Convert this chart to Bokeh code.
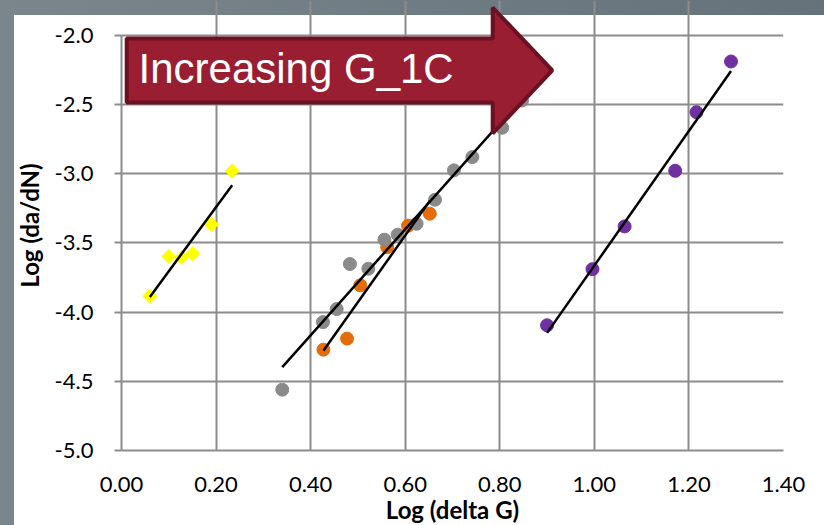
import numpy as np
from bokeh.plotting import figure
from bokeh.models import PolyAnnotation, Label, FixedTicker, Range1d
from bokeh.embed import file_html
from bokeh.resources import INLINE

# ---- data ----
x_ticks = [0.0, 0.2, 0.4, 0.6, 0.8, 1.0, 1.2, 1.4]
x_tick_labels = ["0.00", "0.20", "0.40", "0.60", "0.80", "1.00", "1.20", "1.40"]
y_ticks = [-5.0, -4.5, -4.0, -3.5, -3.0, -2.5, -2.0]
y_tick_labels = ["-5.0", "-4.5", "-4.0", "-3.5", "-3.0", "-2.5", "-2.0"]

yellow_x = [0.060, 0.100, 0.127, 0.151, 0.190, 0.234]
yellow_y = [-3.884, -3.597, -3.606, -3.577, -3.366, -2.980]

orange_x = [0.427, 0.477, 0.505, 0.562, 0.606, 0.652]
orange_y = [-4.271, -4.191, -3.806, -3.530, -3.375, -3.288]

gray_x = [0.340, 0.426, 0.455, 0.483, 0.522, 0.556, 0.584, 0.624, 0.663, 0.703, 0.742, 0.805, 0.847]
gray_y = [-4.560, -4.072, -3.978, -3.652, -3.686, -3.476, -3.440, -3.361, -3.187, -2.975, -2.879, -2.667, -2.470]

purple_x = [0.900, 0.996, 1.064, 1.171, 1.216, 1.289]
purple_y = [-4.095, -3.689, -3.380, -2.978, -2.554, -2.188]

FONT = "Lato"
X_MIN, X_MAX = 0.0, 1.4
Y_MIN, Y_MAX = -5.0, -2.0

# frame extends above the -2.0 line so the arrow head can overhang the chart
p = figure(frame_width=662, frame_height=450,
           min_border_left=121, min_border_right=41, min_border_top=0, min_border_bottom=75,
           x_range=Range1d(X_MIN, X_MAX), y_range=Range1d(Y_MIN, -1.7471),
           output_backend="svg", toolbar_location=None,
           background_fill_color=None, border_fill_color=None)
p.styles = {
    "background": "linear-gradient(#ffffff, #ffffff) 14px 15px / 810px 510px no-repeat, "
                  "linear-gradient(to right, #7b868c, #65727a)"
}
p.outline_line_color = None

GRID = "#8c8c8c"
for g in (p.xgrid, p.ygrid):
    g.grid_line_color = GRID
    g.grid_line_width = 2
p.xgrid.ticker = FixedTicker(ticks=x_ticks)
p.ygrid.ticker = FixedTicker(ticks=y_ticks)
p.xgrid.bounds = (Y_MIN, Y_MAX)
p.ygrid.bounds = (X_MIN, X_MAX)

p.xaxis.ticker = FixedTicker(ticks=x_ticks)
p.xaxis.major_label_overrides = {t: l for t, l in zip(x_ticks, x_tick_labels)}
p.yaxis.ticker = FixedTicker(ticks=y_ticks)
p.yaxis.major_label_overrides = {t: l for t, l in zip(y_ticks, y_tick_labels)}
p.yaxis.bounds = (Y_MIN, Y_MAX)

for ax in (p.xaxis, p.yaxis):
    ax.axis_line_color = GRID
    ax.axis_line_width = 2
    ax.major_tick_line_color = GRID
    ax.major_tick_line_width = 2
    ax.minor_tick_line_color = None
    ax.major_label_text_font = FONT
    ax.major_label_text_font_size = "22px"
    ax.major_label_text_color = "#000000"
    ax.axis_label_text_font = FONT
    ax.axis_label_text_font_size = "24px"
    ax.axis_label_text_font_style = "bold"
    ax.axis_label_text_color = "#000000"
p.xaxis.major_tick_out = 0
p.xaxis.major_tick_in = 0
p.xaxis.major_label_standoff = 26
p.xaxis.axis_label = "Log (delta G)"
p.xaxis.axis_label_standoff = 0
p.yaxis.major_tick_out = 7
p.yaxis.major_tick_in = 0
p.yaxis.major_label_standoff = 21
p.yaxis.axis_label = "Log (da/dN)"
p.yaxis.axis_label_standoff = 8

# points
p.scatter(yellow_x, yellow_y, marker="square", angle=np.pi / 4, size=10,
          fill_color="#FFFF00", line_color="#FFFF00")
p.scatter(orange_x, orange_y, marker="circle", size=13, fill_color="#E46C0A", line_color="#E46C0A")
p.scatter(gray_x, gray_y, marker="circle", size=13, fill_color="#8a8a8a", line_color="#8a8a8a")
p.scatter(purple_x, purple_y, marker="circle", size=13, fill_color="#7030A0", line_color="#7030A0")

# linear trend lines (least squares)
for xs, ys in ((yellow_x, yellow_y), (orange_x, orange_y), (gray_x, gray_y), (purple_x, purple_y)):
    m, b = np.polyfit(xs, ys, 1)
    x0, x1 = min(xs), max(xs)
    p.line([x0, x1], [m * x0 + b, m * x1 + b], line_color="black", line_width=2.5)

# arrow annotation (data units)
ax_ = [0.011, 0.785, 0.785, 0.911, 0.785, 0.785, 0.011]
ay_ = [-2.022, -2.022, -1.798, -2.253, -2.708, -2.484, -2.484]
arrow = PolyAnnotation(xs=ax_, ys=ay_, fill_color="#991E32", fill_alpha=1.0,
                       line_color="#6B1121", line_width=4, line_alpha=1.0)
p.add_layout(arrow)
p.add_layout(Label(x=0.036, y=-2.239, text="Increasing G_1C", text_color="white",
                   text_font="Liberation Sans", text_font_size="42px",
                   text_baseline="alphabetic"))

open("out.html", "w").write(file_html(p, INLINE))
